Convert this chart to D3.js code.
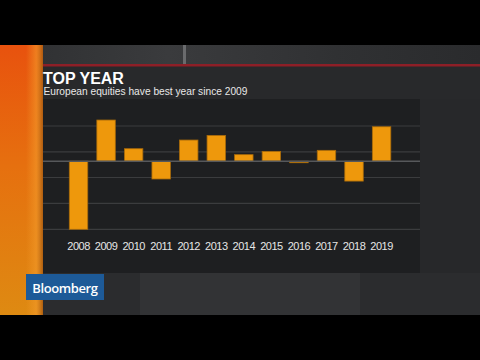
<!DOCTYPE html>
<html><head><meta charset="utf-8">
<script src="https://cdn.jsdelivr.net/npm/d3@7"></script>
<style>html,body{margin:0;padding:0;background:#000;}svg{display:block;}</style>
</head><body>
<script>
const years = ["2008","2009","2010","2011","2012","2013","2014","2015","2016","2017","2018","2019"];
const returns = [-45.6, 27.6, 8.4, -11.9, 14.2, 17.3, 4.4, 6.6, -1.0, 7.3, -13.3, 23.1];
const gridValues = [23.6, 6.3, -10.9, -28.2, -45.6];
const titleText = "TOP YEAR";
const subtitleText = "European equities have best year since 2009";
const brandText = "Bloomberg";

const W = 480, H = 360;
const svg = d3.select("body").append("svg").attr("width", W).attr("height", H);
const defs = svg.append("defs");

const stripGrad = defs.append("linearGradient").attr("id","strip").attr("x1",0).attr("y1",0).attr("x2",0).attr("y2",1);
stripGrad.append("stop").attr("offset","0%").attr("stop-color","#e8520e");
stripGrad.append("stop").attr("offset","45%").attr("stop-color","#e6700f");
stripGrad.append("stop").attr("offset","100%").attr("stop-color","#de8a12");
const stripEdge = defs.append("linearGradient").attr("id","stripEdge").attr("x1",0).attr("y1",0).attr("x2",1).attr("y2",0);
stripEdge.append("stop").attr("offset","0%").attr("stop-color","#f39a2a").attr("stop-opacity",0);
stripEdge.append("stop").attr("offset","60%").attr("stop-color","#f39a2a").attr("stop-opacity",0.6);
stripEdge.append("stop").attr("offset","100%").attr("stop-color","#a85a10").attr("stop-opacity",0.9);
const bgGrad = defs.append("linearGradient").attr("id","bg").attr("x1",0).attr("y1",0).attr("x2",1).attr("y2",0);
bgGrad.append("stop").attr("offset","0%").attr("stop-color","#2e2f31");
bgGrad.append("stop").attr("offset","35%").attr("stop-color","#3a3b3d");
bgGrad.append("stop").attr("offset","70%").attr("stop-color","#303133");
bgGrad.append("stop").attr("offset","100%").attr("stop-color","#2a2b2d");

// frame background
svg.append("rect").attr("x",0).attr("y",45).attr("width",W).attr("height",270).attr("fill","url(#bg)");
svg.append("rect").attr("x",183).attr("y",45).attr("width",3).attr("height",20).attr("fill","#6a6b6d");
// header band
svg.append("rect").attr("x",40).attr("y",66).attr("width",440).attr("height",33).attr("fill","#28292b");
svg.append("rect").attr("x",40).attr("y",64).attr("width",440).attr("height",2.5).attr("fill","#8e1f27");
// right side and bottom
svg.append("rect").attr("x",420).attr("y",99).attr("width",60).attr("height",216).attr("fill","#27282a");
svg.append("rect").attr("x",43).attr("y",273).attr("width",437).attr("height",42).attr("fill","#2b2c2e");
svg.append("rect").attr("x",140).attr("y",273).attr("width",220).attr("height",42).attr("fill","#323335");
// orange strip
svg.append("rect").attr("x",0).attr("y",45).attr("width",43).attr("height",270).attr("fill","url(#strip)");
svg.append("rect").attr("x",26).attr("y",45).attr("width",17).attr("height",270).attr("fill","url(#stripEdge)");

// chart panel
svg.append("rect").attr("x",43).attr("y",99).attr("width",377).attr("height",174).attr("fill","#1e1f21");

const x = d3.scaleBand().domain(years).range([64.75, 395.35]).paddingInner(0.33).paddingOuter(0.165);
const y = d3.scaleLinear().domain(d3.extent(gridValues)).range([229.3, 126]);

// gridlines
svg.append("g").selectAll("line").data(gridValues).join("line")
  .attr("x1",43).attr("x2",420)
  .attr("y1",d=>y(d)).attr("y2",d=>y(d))
  .attr("stroke","#3b3c3e").attr("stroke-width",1.2);

// bars
svg.append("g").selectAll("rect").data(returns).join("rect")
  .attr("x",(d,i)=>x(years[i]))
  .attr("width",x.bandwidth())
  .attr("y",d=>y(Math.max(0,d)))
  .attr("height",d=>Math.abs(y(d)-y(0)))
  .attr("fill","#ee980c")
  .attr("stroke","#a86a0a").attr("stroke-width",0.8);

// zero line
svg.append("line").attr("x1",43).attr("x2",420).attr("y1",y(0)).attr("y2",y(0))
  .attr("stroke","#56585b").attr("stroke-width",1.5);

// x axis labels
const xAxis = d3.axisBottom(x).tickSize(0).tickPadding(0);
const gx = svg.append("g").attr("transform","translate(0,242)").call(xAxis);
gx.select(".domain").remove();
gx.selectAll("text").attr("fill","#e6e6e6").attr("font-family","Liberation Sans, Arial, sans-serif")
  .attr("font-size",11).attr("letter-spacing","-0.5px").attr("dy","0.71em");

// titles
svg.append("text").attr("x",43).attr("y",84).text(titleText)
  .attr("fill","#ffffff").attr("font-family","Liberation Sans, Arial, sans-serif")
  .attr("font-weight","bold").attr("font-size",16);
svg.append("text").attr("x",43.5).attr("y",95).text(subtitleText)
  .attr("fill","#e8e8e8").attr("font-family","Liberation Sans, Arial, sans-serif")
  .attr("font-size",10.2);

// brand logo
svg.append("rect").attr("x",26).attr("y",274).attr("width",78).attr("height",26).attr("fill","#1d5a98");
svg.append("text").attr("x",65).attr("y",292.5).attr("text-anchor","middle").text(brandText)
  .attr("fill","#ffffff").attr("font-family","Open Sans, sans-serif").attr("font-weight",600)
  .attr("font-size",13).attr("letter-spacing","-0.4px");

// letterbox
svg.append("rect").attr("x",0).attr("y",0).attr("width",W).attr("height",45).attr("fill","#000");
svg.append("rect").attr("x",0).attr("y",315).attr("width",W).attr("height",45).attr("fill","#000");
</script>
</body></html>
